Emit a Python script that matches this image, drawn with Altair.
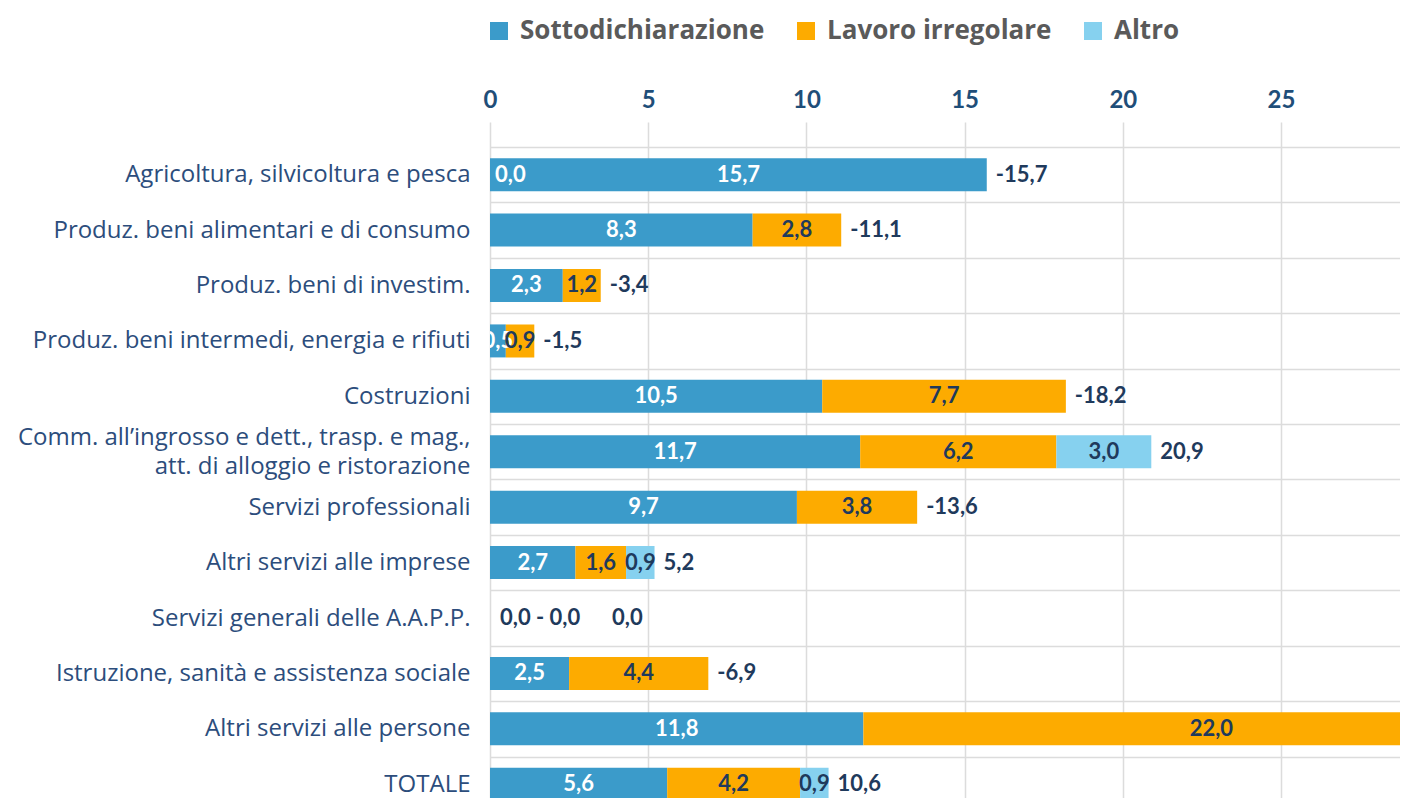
import altair as alt
import pandas as pd

categories = [
    "Agricoltura, silvicoltura e pesca",
    "Produz. beni alimentari e di consumo",
    "Produz. beni di investim.",
    "Produz. beni intermedi, energia e rifiuti",
    "Costruzioni",
    "Comm. all’ingrosso e dett., trasp. e mag.,|att. di alloggio e ristorazione",
    "Servizi professionali",
    "Altri servizi alle imprese",
    "Servizi generali delle A.A.P.P.",
    "Istruzione, sanità e assistenza sociale",
    "Altri servizi alle persone",
    "TOTALE",
]
series = ["Sottodichiarazione", "Lavoro irregolare", "Altro"]
sotto = [15.7, 8.3, 2.3, 0.5, 10.5, 11.7, 9.7, 2.7, 0.0, 2.5, 11.8, 5.6]
irreg = [0.0, 2.8, 1.2, 0.9, 7.7, 6.2, 3.8, 1.6, 0.0, 4.4, 22.0, 4.2]
altro = [0.0, 0.0, 0.0, 0.0, 0.0, 3.0, 0.0, 0.9, 0.0, 0.0, 0.0, 0.9]
total_labels = ["-15,7", "-11,1", "-3,4", "-1,5", "-18,2", "20,9", "-13,6",
                "5,2", "", "-6,9", "", "10,6"]
zero_row = "Servizi generali delle A.A.P.P."
zero_row_labels = ["0,0 - 0,0", "0,0"]
agri_zero_label = "0,0"
colors = ["#3b9bca", "#fdab00", "#86d1ef"]
x_ticks = [0, 5, 10, 15, 20, 25]

rows = []
for ci, cat in enumerate(categories):
    start = 0.0
    for si, (s, vals) in enumerate(zip(series, [sotto, irreg, altro])):
        v = vals[ci]
        rows.append({"cat": cat, "series": s, "order": si, "value": v,
                     "mid": start + v / 2,
                     "label": f"{v:.1f}".replace(".", ",")})
        start += v
df = pd.DataFrame(rows)
tot = pd.DataFrame({"cat": categories,
                    "total": [a + b + c for a, b, c in zip(sotto, irreg, altro)],
                    "label": total_labels})
tot = tot[tot["label"] != ""]

NAVY = "#1f3a5c"
NUMFONT = "Lato"
CATFONT = "Open Sans"
xscale = alt.Scale(domain=[0, 28.76], nice=False, zero=True)
yscale = alt.Scale(paddingInner=0, paddingOuter=0.225, align=1)

y_enc = alt.Y("cat:N", sort=categories, scale=yscale, title=None,
              axis=alt.Axis(labelExpr="split(datum.label, '|')", ticks=False, domain=False,
                            labelPadding=20, labelLimit=600, labelFontSize=24,
                            labelFont=CATFONT, labelColor="#2c4d7c", labelLineHeight=29,
                            labelOffset=alt.condition(
                                "isString(datum.value) && indexof(datum.value, '|') >= 0",
                                alt.value(-14), alt.value(0)),
                            grid=True, tickBand="extent", gridColor="#dcdcdc"))

bars = alt.Chart(df).mark_bar(size=33, clip=True).encode(
    x=alt.X("value:Q", stack="zero", scale=xscale, title=None,
            axis=alt.Axis(orient="top", values=x_ticks, ticks=False, domain=False,
                          labelFlush=False,
                          labelPadding=10, labelFontSize=24, labelFontWeight="bold",
                          labelFont=NUMFONT, labelColor="#1f4e79", grid=True,
                          gridColor="#dcdcdc")),
    y=y_enc,
    color=alt.Color("series:N", sort=series,
                    scale=alt.Scale(domain=series, range=colors),
                    legend=alt.Legend(title=None, orient="none", legendX=-4, legendY=-104,
                                      direction="horizontal", symbolType="square",
                                      symbolSize=324, symbolStrokeWidth=0,
                                      labelFont=CATFONT, labelFontSize=26, labelLimit=600,
                                      labelFontWeight="bold", labelColor="#5a5a5a",
                                      labelOffset=8, columnPadding=28)),
    order=alt.Order("order:Q"),
)

seg_labels = alt.Chart(df).transform_filter("datum.value > 0").mark_text(
    font=NUMFONT, fontSize=22, fontWeight="bold", clip=True
).encode(
    x=alt.X("mid:Q", scale=xscale),
    y=alt.Y("cat:N", sort=categories, scale=yscale),
    text="label:N",
    color=alt.condition(alt.datum.series == "Sottodichiarazione",
                        alt.value("white"), alt.value(NAVY)),
)

tot_labels = alt.Chart(tot).mark_text(
    font=NUMFONT, fontSize=22, fontWeight="bold", align="left", dx=9, color=NAVY, clip=True
).encode(
    x=alt.X("total:Q", scale=xscale),
    y=alt.Y("cat:N", sort=categories, scale=yscale),
    text="label:N",
)

agri = alt.Chart(pd.DataFrame({"cat": [categories[0]], "x": [0.0], "label": [agri_zero_label]})).mark_text(
    font=NUMFONT, fontSize=22, fontWeight="bold", align="left", dx=5, color="white"
).encode(x=alt.X("x:Q", scale=xscale), y=alt.Y("cat:N", sort=categories, scale=yscale), text="label:N")

zr1 = alt.Chart(pd.DataFrame({"cat": [zero_row], "x": [0.0], "label": [zero_row_labels[0]]})).mark_text(
    font=NUMFONT, fontSize=22, fontWeight="bold", align="left", dx=10, color=NAVY
).encode(x=alt.X("x:Q", scale=xscale), y=alt.Y("cat:N", sort=categories, scale=yscale), text="label:N")

zr2 = alt.Chart(pd.DataFrame({"cat": [zero_row], "x": [0.0], "label": [zero_row_labels[1]]})).mark_text(
    font=NUMFONT, fontSize=22, fontWeight="bold", align="left", dx=122, color=NAVY
).encode(x=alt.X("x:Q", scale=xscale), y=alt.Y("cat:N", sort=categories, scale=yscale), text="label:N")

chart = alt.layer(bars, seg_labels, tot_labels, agri, zr1, zr2).properties(
    width=910, height=690,
    padding={"left": 482, "top": 114, "right": 0, "bottom": -14},
    autosize=alt.AutoSizeParams(type="none"),
).configure_view(stroke=None).configure_axis(gridWidth=1.5)

chart.save("out.html", embed_options={"renderer": "svg", "actions": False})
